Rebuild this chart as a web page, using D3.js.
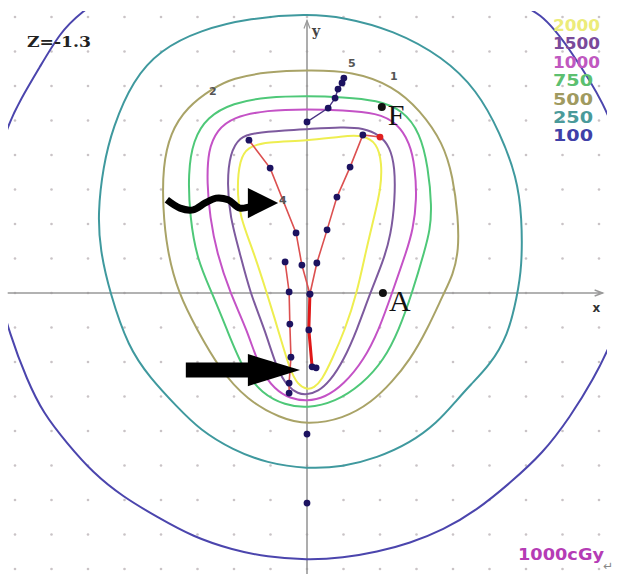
<!DOCTYPE html>
<html>
<head>
<meta charset="utf-8">
<script src="https://cdn.jsdelivr.net/npm/d3@7"></script>
<style>
body { margin:0; background:#fff; }
</style>
</head>
<body>
<svg id="isoSVG" width="620" height="574"></svg>
<script>
// dose levels (cGy) shown in the legend, top to bottom
var doseLevels = ['2000','1500','1000','750','500','250','100'];
var doseColors = ['#eeee50','#7d5a9e','#c452c6','#4ec878','#a9a367','#3f999e','#4b45ad'];
var legendColors = ['#ecec7a','#7a4a9a','#c058c0','#5cc070','#a09a60','#4a9a9a','#4040a8'];

// grid positions (cm)
var gridX = [-8,-7,-6,-5,-4,-3,-2,-1,0,1,2,3,4,5,6,7,8];
var gridY = [-8,-7,-6,-5,-4,-3,-2,-1,0,1,2,3,4,5,6,7,8];

// isodose curves, [x, y] in cm
var iso2000 = [[0,4.41],[0.99,4.55],[1.53,4.58],[1.92,4.35],[2.05,3.77],[2.03,3.07],[1.84,2.20],[1.62,1.25],[1.37,0],[1.04,-1.07],[0.68,-1.94],[0.41,-2.52],[0.19,-2.75],[0,-2.80],[-0.25,-2.66],[-0.47,-2.23],[-0.79,-1.07],[-1.10,0],[-1.48,1.25],[-1.84,2.20],[-1.92,3.07],[-1.84,3.86],[-1.64,4.23],[-1.10,4.38]];
var iso1500 = [[0,4.75],[0.99,4.81],[1.53,4.78],[2.00,4.58],[2.27,4.23],[2.41,3.65],[2.41,2.70],[2.30,1.68],[2.08,0.90],[1.73,0],[1.37,-1.07],[1.01,-1.94],[0.63,-2.56],[0.30,-2.86],[0,-2.95],[-0.25,-2.92],[-0.52,-2.72],[-0.82,-2.23],[-1.15,-1.07],[-1.56,0],[-1.84,1.16],[-2.11,2.20],[-2.19,3.19],[-2.11,4.06],[-1.84,4.52],[-1.48,4.64],[-0.55,4.72]];
var iso1000 = [[0,5.33],[0.99,5.30],[1.92,5.22],[2.47,4.93],[2.82,4.35],[2.96,3.65],[3.01,2.70],[2.90,1.83],[2.74,1.25],[2.33,0],[1.97,-1.07],[1.56,-1.94],[1.01,-2.65],[0.49,-3.03],[0,-3.14],[-0.47,-3.06],[-0.88,-2.80],[-1.29,-2.23],[-1.64,-1.07],[-2.11,0],[-2.47,1.16],[-2.66,2.20],[-2.74,3.19],[-2.71,4.14],[-2.47,4.72],[-2.03,5.10],[-1.10,5.30]];
var iso750 = [[0,5.71],[0.99,5.68],[1.92,5.59],[2.63,5.30],[3.10,4.64],[3.32,3.65],[3.42,2.49],[3.37,1.83],[3.23,1.25],[2.88,0],[2.52,-1.07],[2.11,-1.94],[1.51,-2.65],[0.77,-3.16],[0,-3.34],[-0.60,-3.25],[-1.23,-2.92],[-1.75,-2.23],[-2.19,-1.07],[-2.60,0],[-3.01,0.96],[-3.21,2.20],[-3.26,3.48],[-3.12,4.43],[-2.74,5.10],[-2.03,5.51],[-1.10,5.68]];
var iso500 = [[0,6.46],[1.26,6.43],[2.36,6.00],[3.10,5.30],[3.73,4.35],[4.00,3.36],[4.14,2.20],[4.16,1.25],[4.00,0.52],[3.75,0],[3.29,-1.07],[2.82,-1.94],[2.33,-2.58],[1.78,-3.16],[0.99,-3.65],[0,-3.82],[-0.74,-3.63],[-1.64,-3.10],[-2.38,-2.23],[-3.01,-1.07],[-3.53,0],[-3.84,1.25],[-3.95,2.49],[-3.95,3.65],[-3.75,4.64],[-3.29,5.39],[-2.58,5.94],[-2.03,6.23],[-1.10,6.41]];
var iso250 = [[0,8.09],[0.99,8.00],[2.36,7.62],[3.73,6.84],[4.66,5.88],[5.29,4.64],[5.75,3.36],[5.89,2.20],[5.89,0.75],[5.75,-0.12],[5.51,-1.22],[5.01,-2.09],[4.47,-2.67],[4.11,-3.10],[3.56,-3.77],[2.82,-4.35],[1.92,-4.78],[0.99,-5.04],[0,-5.10],[-1.10,-4.93],[-2.03,-4.55],[-2.93,-3.97],[-3.56,-3.30],[-4.30,-2.46],[-4.90,-1.57],[-5.40,0],[-5.67,1.25],[-5.73,2.32],[-5.59,3.65],[-5.32,4.81],[-4.77,6.17],[-4.03,7.04],[-2.93,7.62],[-1.56,7.97]];
var iso100 = [[0,9.80],[3.37,9.36],[5.29,8.64],[6.47,8.12],[7.21,7.04],[8.16,5.51],[8.71,3.86],[8.99,1.83],[8.85,0.09],[8.41,-1.30],[7.84,-2.52],[7.21,-3.59],[6.47,-4.64],[5.56,-5.51],[4.66,-6.29],[3.73,-6.87],[2.82,-7.25],[1.92,-7.51],[0.99,-7.68],[0,-7.74],[-1.10,-7.65],[-2.03,-7.45],[-3.12,-7.07],[-4.11,-6.49],[-5.04,-5.91],[-5.86,-5.22],[-6.58,-4.35],[-7.23,-3.48],[-7.67,-2.52],[-8.14,-1.22],[-8.55,0.38],[-8.68,2.12],[-8.49,3.86],[-8.19,4.87],[-7.86,5.59],[-7.32,6.55],[-6.77,7.54],[-6.22,8.12],[-5.12,8.93],[-2.93,9.59]];
var isoCurves = [iso2000, iso1500, iso1000, iso750, iso500, iso250, iso100];

// source trajectories (dwell positions)
var path5 = [[0,4.96],[0.58,5.36],[0.77,5.65],[0.85,5.91],[0.96,6.09],[1.01,6.23]];
var path4 = [[-1.59,4.43],[-1.01,3.62],[-0.30,1.74],[-0.14,0.81],[0.08,-0.03],[0.05,-1.07],[0.14,-2.14],[0.25,-2.17]];
var path1 = [[2.00,4.52],[1.53,4.58],[1.18,3.65],[0.82,2.78],[0.55,1.83],[0.27,0.87],[0.08,-0.03]];
var path2 = [[-0.60,0.90],[-0.49,0.03],[-0.47,-0.90],[-0.44,-1.86],[-0.49,-2.61],[-0.49,-2.90]];
var centralSegment = [[0.08,-0.03],[0.05,-1.07],[0.14,-2.14]];
var extraDwells = [[0,-4.09],[0,-6.09]];
var redDwell = [[2.00,4.52]];

// reference points
var refPoints = [{name:'F', x:2.05, y:5.39}, {name:'A', x:2.08, y:0}];
// trajectory labels
var pathLabels = [{t:'2', x:-2.58, y:5.75}, {t:'1', x:2.38, y:6.17}, {t:'5', x:1.23, y:6.54}, {t:'4', x:-0.66, y:2.59}];

// annotation arrows
var wavyTail = [[-3.84,2.70],[-3.48,2.46],[-3.12,2.41],[-2.79,2.61],[-2.49,2.75],[-2.16,2.70],[-1.84,2.46],[-1.51,2.52]];
var wavyHead = [[-1.62,3.04],[-0.79,2.61],[-1.62,2.17]];
var straightTail = [[-3.32,-2.23],[-1.51,-2.23]];
var straightHead = [[-1.62,-1.77],[-0.19,-2.23],[-1.62,-2.70]];

var x = d3.scaleLinear().domain([0,1]).range([307,343.5]);
var y = d3.scaleLinear().domain([0,1]).range([293,258.5]);

var svg = d3.select('#isoSVG');

svg.append('defs')
	.append('clipPath')
	.attr('id','plotClip')
	.append('rect')
	.attr('x',8)
	.attr('y',11)
	.attr('width',599)
	.attr('height',563)

// grid dots
var gridPts = [];
gridX.forEach(function(gx){ gridY.forEach(function(gy){ gridPts.push([gx,gy]) }) });
svg.append('g')
	.selectAll('circle')
	.data(gridPts)
	.enter()
	.append('circle')
	.attr('cx', function(d){ return x(d[0]) })
	.attr('cy', function(d){ return y(d[1]) })
	.attr('r', 1.3)
	.attr('fill','#c9c3c6')

// axes
svg.append('line')
	.attr('x1', x(-8.2)).attr('x2', x(8.1))
	.attr('y1', y(0)).attr('y2', y(0))
	.attr('stroke','#999').attr('stroke-width',1.6)
svg.append('path')
	.attr('d', 'M' + (x(8.1)-8) + ',' + (y(0)-3) + 'L' + x(8.1) + ',' + y(0) + 'L' + (x(8.1)-8) + ',' + (y(0)+3))
	.attr('fill','none').attr('stroke','#999').attr('stroke-width',1.4)
svg.append('line')
	.attr('x1', x(0)).attr('x2', x(0))
	.attr('y1', y(7.9)).attr('y2', y(-8.3))
	.attr('stroke','#999').attr('stroke-width',1.6)
svg.append('path')
	.attr('d', 'M' + (x(0)-3) + ',' + (y(7.9)+8) + 'L' + x(0) + ',' + y(7.9) + 'L' + (x(0)+3) + ',' + (y(7.9)+8))
	.attr('fill','none').attr('stroke','#999').attr('stroke-width',1.2)
svg.append('text')
	.attr('x', x(0.14)).attr('y', y(7.45))
	.attr('font-family','DejaVu Serif').attr('font-weight','bold').attr('font-size',14)
	.attr('fill','#444').text('y')
svg.append('text')
	.attr('x', x(7.82)).attr('y', y(-0.55))
	.attr('font-family','DejaVu Sans').attr('font-weight','bold').attr('font-size',12)
	.attr('fill','#333').text('x')

// isodose curves
var closedLine = d3.line()
	.x(function(d){ return x(d[0]) })
	.y(function(d){ return y(d[1]) })
	.curve(d3.curveBasisClosed);

svg.append('g')
	.attr('clip-path','url(#plotClip)')
	.selectAll('path')
	.data(isoCurves.slice().reverse())
	.enter()
	.append('path')
	.attr('d', closedLine)
	.attr('fill','none')
	.attr('stroke', function(d,i){ return doseColors[doseColors.length-1-i] })
	.attr('stroke-width', 2)

// trajectories
var openLine = d3.line()
	.x(function(d){ return x(d[0]) })
	.y(function(d){ return y(d[1]) });

[path4, path1, path2].forEach(function(p){
	svg.append('path')
		.attr('d', openLine(p))
		.attr('fill','none')
		.attr('stroke','#dc5050')
		.attr('stroke-width',1.6)
});
svg.append('path')
	.attr('d', openLine(path5))
	.attr('fill','none')
	.attr('stroke','#4a3585')
	.attr('stroke-width',1.4)
svg.append('path')
	.attr('d', openLine(centralSegment))
	.attr('fill','none')
	.attr('stroke','#e01818')
	.attr('stroke-width',3)

var dwells = [].concat(path5, path4, path1.slice(1), path2, extraDwells);
svg.append('g')
	.selectAll('circle')
	.data(dwells)
	.enter()
	.append('circle')
	.attr('cx', function(d){ return x(d[0]) })
	.attr('cy', function(d){ return y(d[1]) })
	.attr('r', 3.4)
	.attr('fill','#1c1260')

svg.append('g')
	.selectAll('circle')
	.data(redDwell)
	.enter()
	.append('circle')
	.attr('cx', function(d){ return x(d[0]) })
	.attr('cy', function(d){ return y(d[1]) })
	.attr('r', 3.4)
	.attr('fill','#e02020')

// trajectory labels
svg.append('g')
	.selectAll('text')
	.data(pathLabels)
	.enter()
	.append('text')
	.attr('x', function(d){ return x(d.x) })
	.attr('y', function(d){ return y(d.y) })
	.attr('text-anchor','middle')
	.attr('font-family','DejaVu Sans')
	.attr('font-weight','bold')
	.attr('font-size',11)
	.attr('fill','#555')
	.text(function(d){ return d.t })

// reference points F and A
var refs = svg.append('g').selectAll('g').data(refPoints).enter().append('g');
refs.append('circle')
	.attr('cx', function(d){ return x(d.x) })
	.attr('cy', function(d){ return y(d.y) })
	.attr('r', 4)
	.attr('fill','#111')
refs.append('text')
	.attr('x', function(d){ return x(d.x) + 6 })
	.attr('y', function(d){ return y(d.y) + 18 })
	.attr('font-family','Liberation Serif')
	.attr('font-size',30)
	.attr('fill','#111')
	.text(function(d){ return d.name })

// arrows
svg.append('path')
	.attr('d', d3.line().x(function(d){ return x(d[0]) }).y(function(d){ return y(d[1]) }).curve(d3.curveCatmullRom)(wavyTail))
	.attr('fill','none')
	.attr('stroke','#000')
	.attr('stroke-width',7)
svg.append('path')
	.attr('d', openLine(wavyHead) + 'Z')
	.attr('fill','#000')
svg.append('path')
	.attr('d', openLine(straightTail))
	.attr('stroke','#000')
	.attr('stroke-width',15)
svg.append('path')
	.attr('d', openLine(straightHead) + 'Z')
	.attr('fill','#000')

// slice label
svg.append('text')
	.attr('x', 27).attr('y', 47)
	.attr('font-family','DejaVu Serif')
	.attr('font-weight','bold')
	.attr('font-size',15)
	.attr('textLength',64)
	.attr('lengthAdjust','spacingAndGlyphs')
	.attr('fill','#222')
	.text('Z=-1.3')

// legend
svg.append('g')
	.selectAll('text')
	.data(doseLevels)
	.enter()
	.append('text')
	.attr('x', 553)
	.attr('y', function(d,i){ return 31 + i*18.4 })
	.attr('font-family','DejaVu Sans')
	.attr('font-weight','bold')
	.attr('font-size',16)
	.attr('textLength', function(d){ return d.length == 4 ? 47 : 40 })
	.attr('lengthAdjust','spacingAndGlyphs')
	.attr('fill', function(d,i){ return legendColors[i] })
	.text(function(d){ return d })

svg.append('text')
	.attr('x', 518).attr('y', 560)
	.attr('font-family','DejaVu Sans')
	.attr('font-weight','bold')
	.attr('font-size',16)
	.attr('textLength',86)
	.attr('lengthAdjust','spacingAndGlyphs')
	.attr('fill','#b53cb5')
	.text('1000cGy')

svg.append('text')
	.attr('x', 603).attr('y', 570)
	.attr('font-family','DejaVu Sans')
	.attr('font-size',12)
	.attr('fill','#888')
	.text('↵')
</script>
</body>
</html>
